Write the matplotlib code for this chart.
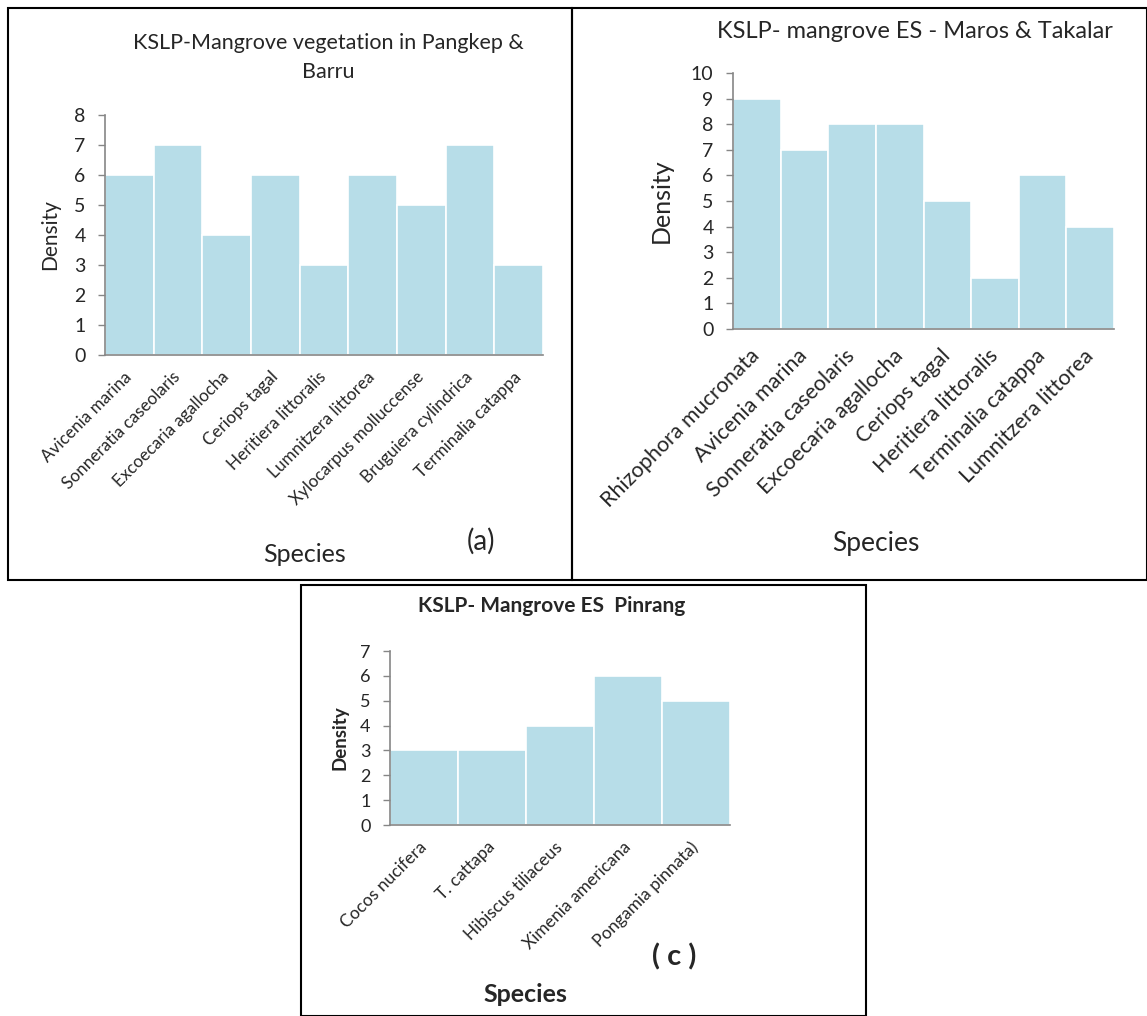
import matplotlib
matplotlib.use("Agg")
import matplotlib.pyplot as plt
from matplotlib.patches import Rectangle

# ---- data ----
species_a = ["Avicenia marina", "Sonneratia caseolaris", "Excoecaria agallocha",
             "Ceriops tagal", "Heritiera littoralis", "Lumnitzera littorea",
             "Xylocarpus molluccense", "Bruguiera cylindrica", "Terminalia catappa"]
density_a = [6, 7, 4, 6, 3, 6, 5, 7, 3]

species_b = ["Rhizophora mucronata", "Avicenia marina", "Sonneratia caseolaris",
             "Excoecaria agallocha", "Ceriops tagal", "Heritiera littoralis",
             "Terminalia catappa", "Lumnitzera littorea"]
density_b = [9, 7, 8, 8, 5, 2, 6, 4]

species_c = ["Cocos nucifera", "T. cattapa", "Hibiscus tiliaceus",
             "Ximenia americana", "Pongamia pinnata)"]
density_c = [3, 3, 4, 6, 5]

plt.rcParams['font.family'] = ['Lato', 'DejaVu Sans']
BAR = '#b7dde8'
AX = '#868686'
TXT = '#262626'

W, H = 1147, 1016
fig = plt.figure(figsize=(W / 100, H / 100), dpi=100)


def fx(px):
    return px / W


def fy(py):
    return 1 - py / H


def box(x0, y0, x1, y1):
    fig.patches.append(Rectangle((fx(x0), fy(y1)), fx(x1) - fx(x0), fy(y0) - fy(y1),
                                 transform=fig.transFigure, fill=False,
                                 edgecolor='black', linewidth=1.5))


def make_axes(x0, x1, ytop, ybot):
    return fig.add_axes([fx(x0), fy(ybot), fx(x1) - fx(x0), fy(ytop) - fy(ybot)])


def style(ax, names, vals, ymax, tick_fs, lab_fs, pad):
    x = range(len(vals))
    ax.bar(x, vals, width=1.0, color=BAR, edgecolor='white', linewidth=1.2)
    ax.set_xlim(-0.5, len(vals) - 0.5)
    ax.set_ylim(0, ymax)
    ax.set_yticks(range(0, ymax + 1))
    ax.set_xticks(list(x))
    ax.set_xticklabels(names, rotation=45, ha='right', va='center',
                       rotation_mode='anchor', fontsize=lab_fs, color=TXT)
    ax.tick_params(axis='x', length=0, pad=pad)
    ax.tick_params(axis='y', length=5, width=1, color=AX, labelsize=tick_fs,
                   labelcolor=TXT, pad=9)
    for s in ['top', 'right']:
        ax.spines[s].set_visible(False)
    for s in ['left', 'bottom']:
        ax.spines[s].set_color(AX)
        ax.spines[s].set_linewidth(1.2)
    ax.patch.set_alpha(0)


# ---- panel (a) ----
box(8, 8, 572, 580)
ax1 = make_axes(105, 543, 115, 355)
style(ax1, species_a, density_a, 8, 14, 12.3, 14)
ax1.set_ylabel('Density', fontsize=15, color=TXT, labelpad=10)
fig.text(fx(328), fy(43), 'KSLP-Mangrove vegetation in Pangkep &', ha='center',
         va='center', fontsize=15.5, color=TXT)
fig.text(fx(328), fy(72), 'Barru', ha='center', va='center', fontsize=15.5, color=TXT)
fig.text(fx(305), fy(555), 'Species', ha='center', va='center', fontsize=18, color=TXT)
fig.text(fx(481), fy(541), '(a)', ha='center', va='center', fontsize=20, color=TXT)

# ---- panel (b) ----
box(572, 8, 1147, 580)
ax2 = make_axes(733, 1114, 73, 329)
style(ax2, species_b, density_b, 10, 14, 15.5, 17)
ax2.set_ylabel('Density', fontsize=18, color=TXT, labelpad=13)
fig.text(fx(915), fy(32), 'KSLP- mangrove ES - Maros & Takalar', ha='center',
         va='center', fontsize=17, color=TXT)
fig.text(fx(876), fy(543), 'Species', ha='center', va='center', fontsize=19, color=TXT)

# ---- panel (c) ----
box(301, 585, 866, 1016)
ax3 = make_axes(390, 730, 651, 825)
style(ax3, species_c, density_c, 7, 13, 12.5, 14)
ax3.set_ylabel('Density', fontsize=13.5, fontweight='bold', color=TXT, labelpad=8)
fig.text(fx(552), fy(606), 'KSLP- Mangrove ES  Pinrang', ha='center', va='center',
         fontsize=15, fontweight='bold', color=TXT)
fig.text(fx(525), fy(995), 'Species', ha='center', va='center', fontsize=18,
         fontweight='bold', color=TXT)
fig.text(fx(674), fy(957), '( c )', ha='center', va='center', fontsize=21,
         fontweight='bold', color=TXT)

fig.savefig('out.png', dpi=100, facecolor='white')
